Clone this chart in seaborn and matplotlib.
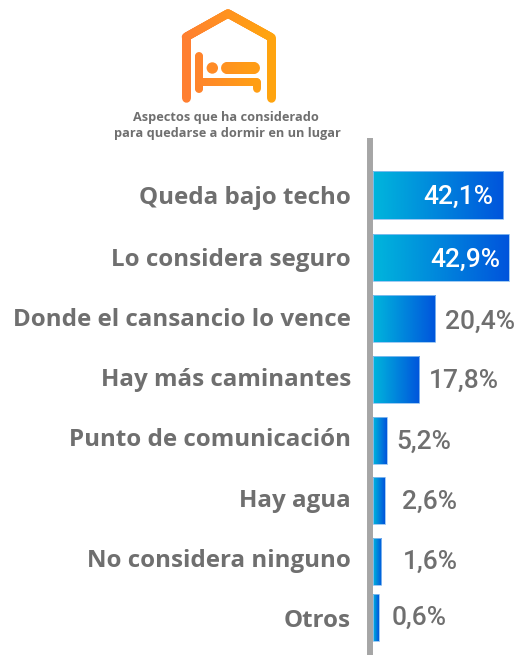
import numpy as np
import matplotlib
matplotlib.use('Agg')
import matplotlib.pyplot as plt
import seaborn as sns
import pandas as pd
from matplotlib.collections import LineCollection
from matplotlib.colors import LinearSegmentedColormap
from matplotlib.patches import Circle

# data
categories = ['Queda bajo techo', 'Lo considera seguro', 'Donde el cansancio lo vence',
              'Hay más caminantes', 'Punto de comunicación', 'Hay agua',
              'No considera ninguno', 'Otros']
value_labels = ['42,1%', '42,9%', '20,4%', '17,8%', '5,2%', '2,6%', '1,6%', '0,6%']
# drawn length of the bars, the original is not proportional to its labels
bar_lengths = [42.1, 44.0, 20.2, 15.0, 4.5, 3.8, 2.6, 1.9]
title_lines = ['Aspectos que ha considerado', 'para quedarse a dormir en un lugar']

W, H = 517, 655
GREY = '#6f6f6f'
ROW = 61.08  # pixels per row

sns.set_theme(style='white')
plt.rcParams['font.family'] = ['Open Sans', 'DejaVu Sans']

fig = plt.figure(figsize=(W / 100, H / 100), dpi=100)

# full page axes in pixels for the icon and the heading
page = fig.add_axes([0, 0, 1, 1])
page.set_xlim(0, W)
page.set_ylim(H, 0)
page.axis('off')

orange = LinearSegmentedColormap.from_list('orange', ['#ff7d33', '#ffa60d'])


def stroke(points, width):
    # split a polyline in short pieces so the colour can follow x
    pts = np.array(points, dtype=float)
    segs, cols = [], []
    for a, b in zip(pts[:-1], pts[1:]):
        n = max(int(np.hypot(*(b - a))), 1)
        for i in range(n):
            p = a + (b - a) * i / n
            q = a + (b - a) * (i + 1) / n
            segs.append([p, q])
            cols.append(orange(((p[0] + q[0]) / 2 - 182) / 93))
    page.add_collection(LineCollection(segs, colors=cols, linewidths=width * 0.72,
                                       capstyle='round', joinstyle='round'))


stroke([(186, 98), (186, 37), (228, 13.5), (270.5, 37), (270.5, 98)], 8.5)
stroke([(198.5, 56), (198.5, 89)], 8)
stroke([(198.5, 81.5), (256.5, 81.5), (256.5, 89)], 7.5)
stroke([(226.5, 68), (253.5, 68)], 12)
page.add_patch(Circle((212.3, 68), 5.7, color=orange(0.33), lw=0))

page.text(226, 117, title_lines[0], ha='center', va='center', fontsize=9.2,
          fontweight='bold', color=GREY)
page.text(227, 134, title_lines[1], ha='center', va='center', fontsize=9.2,
          fontweight='bold', color=GREY)

# bars
df = pd.DataFrame({'category': categories, 'length': bar_lengths})
ax = fig.add_axes([373 / W, 0, 144 / W, 1 - 138 / H])
ax.patch.set_alpha(0)
sns.barplot(data=df, x='length', y='category', ax=ax, width=0.77, color='#0080dd')

# spine first, moving it resets the ticks
for s in ['top', 'right', 'bottom']:
    ax.spines[s].set_visible(False)
ax.spines['left'].set_color('#a6a6a6')
ax.spines['left'].set_linewidth(4.3)
ax.spines['left'].set_capstyle('butt')
ax.spines['left'].set_position(('outward', 2.16))

blues = LinearSegmentedColormap.from_list('blues', ['#00b6dc', '#0054dc'])
gradient = np.linspace(0, 1, 256).reshape(1, -1)

# rows are not quite evenly spaced in the original, nudges in pixels
row_nudge = [0, 1.5, 1.3, 1, 0.9, 0.3, 0, -5.2]
bars = list(ax.patches)
for bar, nudge in zip(bars, row_nudge):
    bar.set_y(bar.get_y() + nudge / ROW)
    x0, y0, w, h = bar.get_x(), bar.get_y(), bar.get_width(), bar.get_height()
    im = ax.imshow(gradient, cmap=blues, aspect='auto', extent=(x0, x0 + w, y0 + h, y0), zorder=2)
    im.set_clip_path(bar)
    bar.set_facecolor('none')
    bar.set_edgecolor('#8fc0f0')
    bar.set_linewidth(0.6)
    bar.set_zorder(3)
ax.set_ylim((655 - 195) / ROW, (138 - 195) / ROW)
ax.set_xlim(0, 144 / 3.09)

centers = [b.get_y() + b.get_height() / 2 for b in bars]
tick_lift = [0, 1, 1, 2, 3, 3, 3, -1]
ax.set_yticks([c - up / ROW for c, up in zip(centers, tick_lift)], categories)
ax.set_xticks([])
ax.set_xlabel('')
ax.set_ylabel('')
ax.tick_params(axis='y', length=0, pad=13.7)
for t in ax.get_yticklabels():
    t.set_fontsize(17.4)
    t.set_fontweight('bold')
    t.set_color(GREY)

# value labels, offset in pixels from the end of each bar
label_gaps = [-45, -43.5, 45, 44.7, 37, 44.8, 49, 40]
label_drop = [2, 2.5, 3, 1.5, 1.5, 1, 0, 0.5]
for i, (bar, txt) in enumerate(zip(bars, value_labels)):
    ax.annotate(txt, (bar.get_width(), centers[i]),
                xytext=(label_gaps[i] * 0.72, -label_drop[i] * 0.72),
                textcoords='offset points', ha='center', va='center',
                fontsize=19, fontfamily=['Roboto', 'DejaVu Sans'], fontweight='medium',
                color='white' if i < 2 else GREY, annotation_clip=False)

fig.savefig('out.png', dpi=100)
